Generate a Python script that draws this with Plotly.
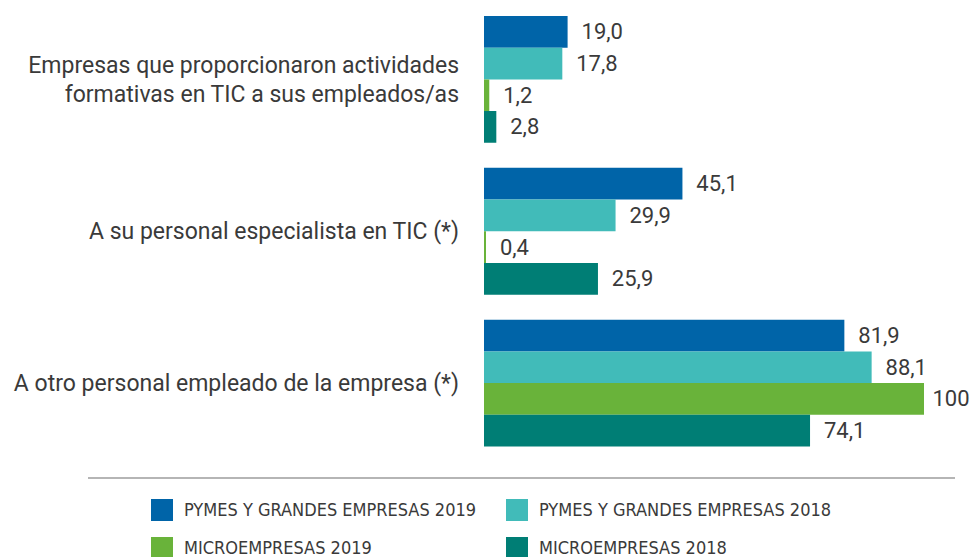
import plotly.graph_objects as go

W, H = 971, 557

categories = [
    "Empresas que proporcionaron actividades<br>formativas en TIC a sus empleados/as",
    "A su personal especialista en TIC (*)",
    "A otro personal empleado de la empresa (*)",
]
series_names = [
    "PYMES Y GRANDES EMPRESAS 2019",
    "PYMES Y GRANDES EMPRESAS 2018",
    "MICROEMPRESAS 2019",
    "MICROEMPRESAS 2018",
]
pymes_2019 = [19.0, 45.1, 81.9]
pymes_2018 = [17.8, 29.9, 88.1]
micro_2019 = [1.2, 0.4, 100]
micro_2018 = [2.8, 25.9, 74.1]
colors = ["#0064A8", "#41BBB9", "#69B33A", "#007E75"]

series_values = [pymes_2019, pymes_2018, micro_2019, micro_2018]


def fmt(v):
    if float(v).is_integer() and v >= 100:
        return "\u00a0" + "%d" % v
    return "\u00a0\u00a0" + ("%.1f" % v).replace(".", ",")


fig = go.Figure()
for name, vals, col in zip(series_names, series_values, colors):
    fig.add_trace(go.Bar(
        y=categories, x=vals, orientation="h", name=name,
        marker=dict(color=col, line=dict(width=0)),
        text=[fmt(v) for v in vals], textposition="outside",
        textfont=dict(family="Roboto", size=22, color="#3a3a3a"),
        cliponaxis=False, showlegend=False, hoverinfo="skip",
    ))


def py(px):
    return 1 - px / H


def pxx(px):
    return px / W


shapes = [
    dict(type="line", xref="paper", yref="paper", x0=pxx(88), x1=pxx(955),
         y0=py(478), y1=py(478), line=dict(color="#b5b5b5", width=2)),
]
annotations = []
legend_pos = [(151, 499), (506, 499), (151, 537), (506, 537)]
for (lx, ly), name, col in zip(legend_pos, series_names, colors):
    shapes.append(dict(type="rect", xref="paper", yref="paper",
                       x0=pxx(lx), x1=pxx(lx + 22), y0=py(ly), y1=py(ly + 22),
                       fillcolor=col, line=dict(width=0)))
    annotations.append(dict(xref="paper", yref="paper", x=pxx(lx + 31), y=py(ly + 10),
                            text=name, showarrow=False, xanchor="left", yanchor="middle",
                            font=dict(family="Liberation Sans Narrow, DejaVu Sans Condensed", size=18,
                                      color="#3a3a3a")))

fig.update_layout(
    width=W, height=H,
    margin=dict(l=0, r=0, t=0, b=0),
    paper_bgcolor="white", plot_bgcolor="white",
    barmode="group", bargap=0.165, bargroupgap=0,
    xaxis=dict(domain=[484 / W, 924 / W], range=[0, 100], visible=False, fixedrange=True),
    yaxis=dict(domain=[py(459), py(3.5)], autorange="reversed", showgrid=False,
               showline=False, ticks="", zeroline=False, automargin=False,
               ticklabelstandoff=24, fixedrange=True,
               tickfont=dict(family="Roboto", size=23, color="#3a3a3a")),
    shapes=shapes, annotations=annotations,
    uniformtext=dict(mode=False),
)

fig.write_html("out.html", config={"displayModeBar": False},
               post_script="document.body.style.margin='0px';document.body.style.overflow='hidden';")
